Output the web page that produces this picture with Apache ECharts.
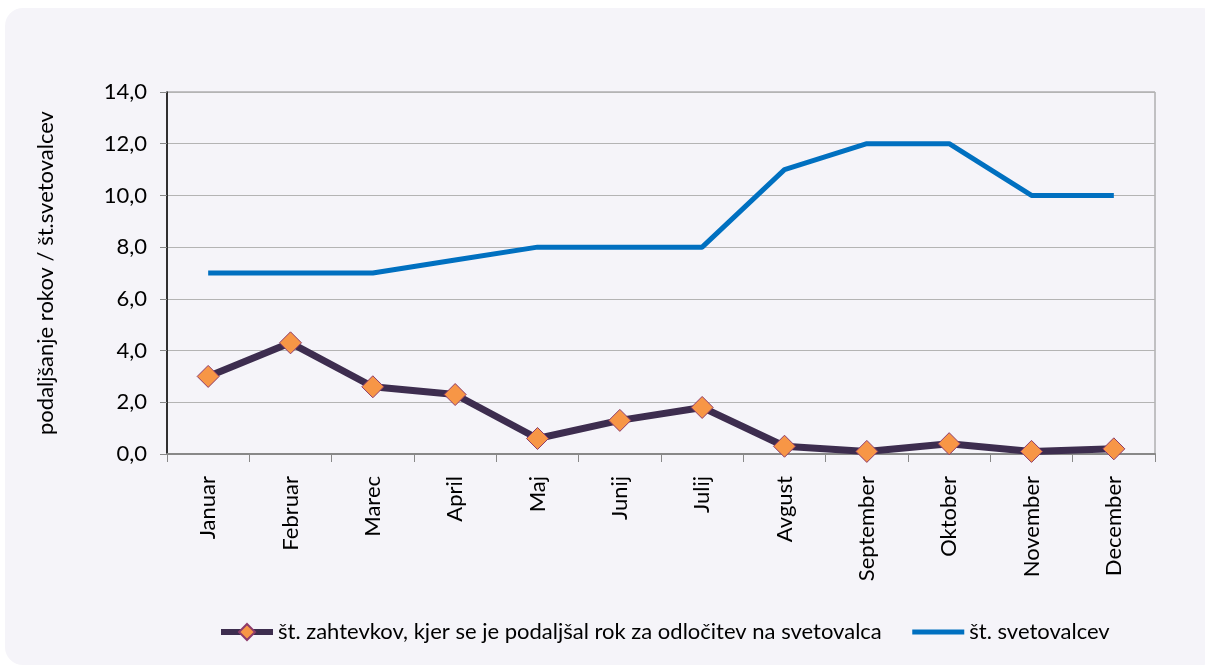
<!DOCTYPE html>
<html><head><meta charset="utf-8">
<script src="https://cdn.jsdelivr.net/npm/echarts@6/dist/echarts.min.js"></script>
<style>html,body{margin:0;padding:0;background:#fff}#c{width:1205px;height:670px}</style>
</head><body><div id="c"></div>
<script>
const categories = ['Januar','Februar','Marec','April','Maj','Junij','Julij','Avgust','September','Oktober','November','December'];
const zahtevki = [3.0, 4.3, 2.6, 2.3, 0.6, 1.3, 1.8, 0.3, 0.1, 0.4, 0.1, 0.2];
const svetovalci = [7, 7, 7, 7.5, 8, 8, 8, 11, 12, 12, 10, 10];
const seriesNames = ['št. zahtevkov, kjer se je podaljšal rok za odločitev na svetovalca', 'št. svetovalcev'];
const yName = 'podaljšanje rokov / št.svetovalcev';
const FONT = 'Lato';
const chart = echarts.init(document.getElementById('c'), null, {renderer:'canvas'});
chart.setOption({
  backgroundColor: '#ffffff',
  textStyle: {fontFamily: FONT},
  graphic: [{type:'rect', z:-10, silent:true, shape:{x:5, y:8, width:1215, height:657, r:18}, style:{fill:'#F5F4F9'}}],
  grid: {left:167, right:50, top:92, bottom:216, show:true, borderColor:'#8c8c8c', borderWidth:1, backgroundColor:'transparent'},
  legend: {bottom:22, left:213, itemGap:28, itemWidth:52, itemHeight:20, textStyle:{fontFamily:FONT, fontSize:22, color:'#000'},
    data:[{name:seriesNames[0], lineStyle:{width:6}}, {name:seriesNames[1], itemStyle:{opacity:0}, lineStyle:{width:5}}]},
  xAxis: {type:'category', data:categories, boundaryGap:true,
    axisLine:{lineStyle:{color:'#888', width:2}},
    axisTick:{show:true, length:8, lineStyle:{color:'#888'}},
    axisLabel:{rotate:90, color:'#000', fontSize:22, fontFamily:FONT, margin:22}},
  yAxis: {type:'value', min:0, max:14, interval:2, name:yName, nameLocation:'middle', nameGap:110, nameRotate:90,
    nameTextStyle:{fontSize:22, color:'#000', fontFamily:FONT},
    axisLine:{show:true, lineStyle:{color:'#000', width:1.5}},
    axisTick:{show:true, length:7, lineStyle:{color:'#888'}},
    splitLine:{lineStyle:{color:'#b4b4b4', width:1}},
    axisLabel:{color:'#000', fontSize:22, fontFamily:FONT, margin:20, formatter:v=>v.toFixed(1).replace('.', ',')}},
  series: [
    {name:seriesNames[0], type:'line', data:zahtevki, symbol:'diamond', symbolSize:22,
      lineStyle:{color:'#3D2D4F', width:7}, itemStyle:{color:'#F79646', borderColor:'#8E3B6A', borderWidth:1}, z:3},
    {name:seriesNames[1], type:'line', data:svetovalci, symbol:'none', showSymbol:false,
      lineStyle:{color:'#0070C0', width:5}, itemStyle:{color:'#0070C0'}, z:2}
  ],
  animation:false
});
</script></body></html>
